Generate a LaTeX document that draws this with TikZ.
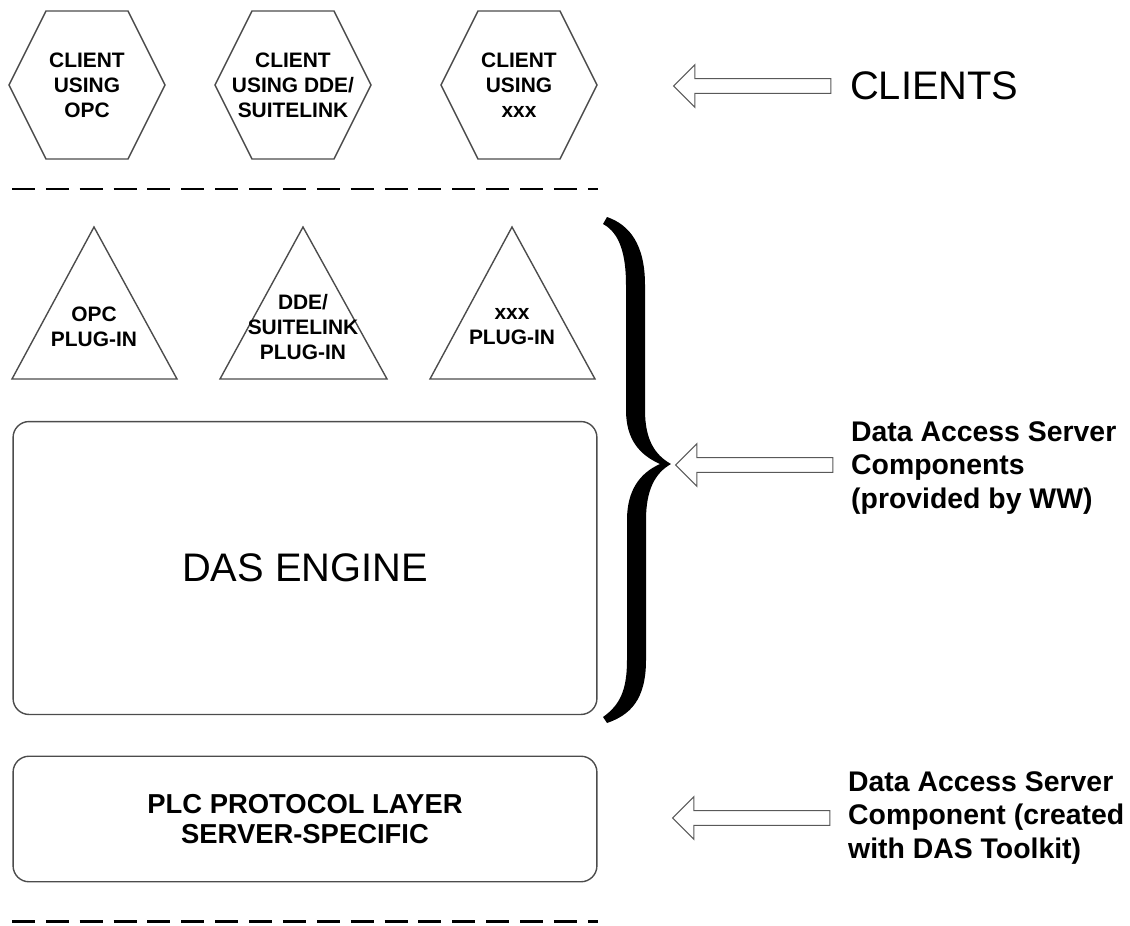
\documentclass[tikz,border=0pt]{standalone}
\usepackage{fontspec}
\setmainfont{Liberation Sans}
\usepackage{tikz}
\usetikzlibrary{positioning,calc,shapes.arrows}

\tikzset{
	outline/.style={draw=black!70, line width=1.4},
	smalltext/.style={font=\fontsize{21}{25}\selectfont\bfseries, align=center, inner sep=0},
	bigtext/.style={font=\fontsize{40}{48}\selectfont, inner sep=0},
	sidelabel/.style={font=\fontsize{28.5}{34}\selectfont\bfseries, align=left, anchor=west, inner sep=0},
	layerline/.style={line width=3, dash pattern=on 23 off 11},
	hollowarrow/.style={single arrow, shape border rotate=180, draw=black!65, line width=1,
		fill=white, minimum height=158, inner sep=0, inner ysep=7, single arrow head extend=14}
}

\begin{document}
\begin{tikzpicture}[x=1bp,y=-1bp]
			\useasboundingbox (0,0) rectangle (1130,926);
			% clients
			\draw [outline] (46,11) -- (128,11) -- (165,85) -- (128,159) -- (46,159) -- (9,85) -- cycle;
			\draw [outline] (252,11) -- (334,11) -- (371,85) -- (334,159) -- (252,159) -- (215,85) -- cycle;
			\draw [outline] (478,11) -- (560,11) -- (597,85) -- (560,159) -- (478,159) -- (441,85) -- cycle;
			\node[smalltext] (copc) at (87,85) {CLIENT\\USING\\OPC};
			\node[smalltext] (cdde) at (293,85) {CLIENT\\USING DDE/\\SUITELINK};
			\node[smalltext] (cxxx) at (519,85) {CLIENT\\USING\\xxx};
			\draw [layerline] (12,189) -- (598,189);
			% plug-ins
			\draw [outline] (94,227) -- (177,379) -- (12,379) -- cycle;
			\draw [outline] (303,227) -- (387,379) -- (220,379) -- cycle;
			\draw [outline] (512,227) -- (595,379) -- (430,379) -- cycle;
			\node[smalltext] (popc) at (94,327) {OPC\\PLUG-IN};
			\node[smalltext] (pdde) at (303,327) {DDE/\\SUITELINK\\PLUG-IN};
			\node[smalltext] (pxxx) at (512,327) {xxx\\PLUG-IN};
			% engine and protocol layer
			\node[outline, rounded corners=16, minimum width=586, minimum height=294, bigtext] (engine) at (305,568) {DAS ENGINE};
			\node[outline, rounded corners=16, minimum width=586, minimum height=126, smalltext, font=\fontsize{27.5}{30}\selectfont\bfseries] (plc) at (305,819) {PLC PROTOCOL LAYER\\SERVER-SPECIFIC};
			\draw [layerline] (12,921) -- (598,921);
			% brace
			\fill (607,217) .. controls (630,225) and (645,245) .. (645,285) -- (645,410)
				.. controls (645,440) and (655,455) .. (671,464)
				.. controls (655,473) and (646,490) .. (646,520) -- (646,660)
				.. controls (646,700) and (630,715) .. (607,723) -- (603,717)
				.. controls (620,705) and (627,690) .. (627,660) -- (627,520)
				.. controls (627,490) and (640,473) .. (660,464)
				.. controls (640,455) and (626,440) .. (626,410) -- (626,285)
				.. controls (626,255) and (620,233) .. (603,224) -- cycle;
			% labels
			\node[hollowarrow] (arrclients) at (756,86) {};
			\node[bigtext, anchor=west] (clients) at (850,86) {CLIENTS};
			\node[hollowarrow] (arrdas) at (758,465) {};
			\node[sidelabel] (dasparts) at (851,468) {Data Access Server\\Components\\(provided by WW)};
			\node[hollowarrow] (arrplc) at (755,818) {};
			\node[sidelabel] (toolkit) at (848,818) {Data Access Server\\Component (created\\with DAS Toolkit)};
\end{tikzpicture}
\end{document}
